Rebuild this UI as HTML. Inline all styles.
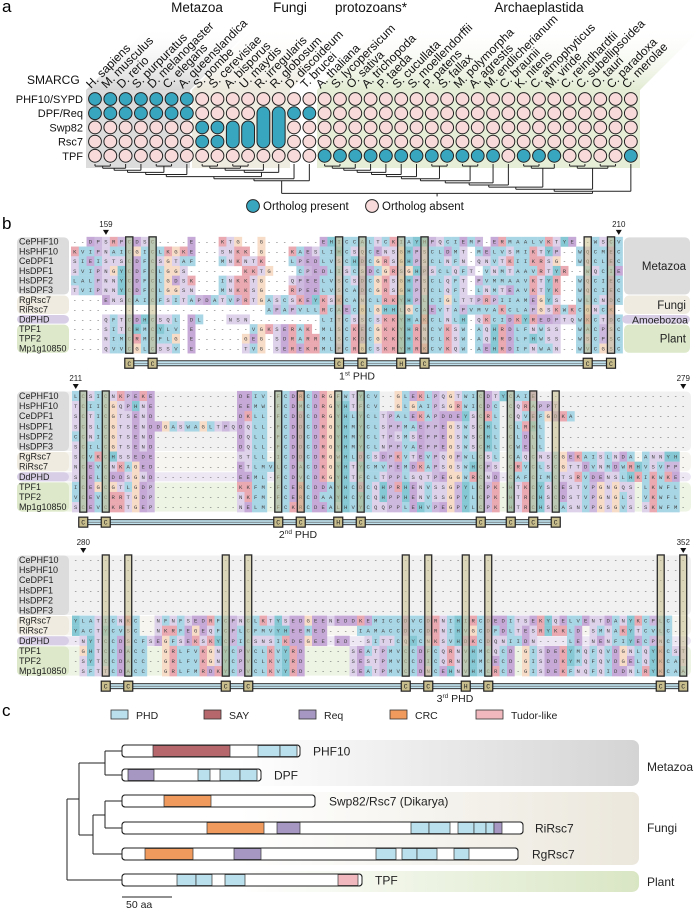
<!DOCTYPE html>
<html><head><meta charset="utf-8">
<style>
html,body{margin:0;padding:0;background:#fff;}
svg{display:block;font-family:"Liberation Sans",sans-serif;}
</style></head>
<body>
<svg id="fig" width="699" height="909" viewBox="0 0 699 909" xmlns="http://www.w3.org/2000/svg">
<defs>
<linearGradient id="gMet" x1="0" y1="1" x2="0" y2="0"><stop offset="0" stop-color="#d6d6d6"/><stop offset="1" stop-color="#ffffff" stop-opacity="0"/></linearGradient>
<linearGradient id="gFun" x1="0" y1="1" x2="0" y2="0"><stop offset="0" stop-color="#ece8dc"/><stop offset="1" stop-color="#ffffff" stop-opacity="0"/></linearGradient>
<linearGradient id="gPla" x1="0" y1="1" x2="0" y2="0"><stop offset="0" stop-color="#e2ebd2"/><stop offset="1" stop-color="#ffffff" stop-opacity="0"/></linearGradient>
<linearGradient id="hMet" x1="0" y1="0" x2="1" y2="0"><stop offset="0" stop-color="#fff"/><stop offset="1" stop-color="#d4d4d4"/></linearGradient>
<linearGradient id="hFun" x1="0" y1="0" x2="1" y2="0"><stop offset="0" stop-color="#fff"/><stop offset="1" stop-color="#ebe7dc"/></linearGradient>
<linearGradient id="hPla" x1="0" y1="0" x2="1" y2="0"><stop offset="0" stop-color="#fff"/><stop offset="1" stop-color="#d9e6c4"/></linearGradient>
</defs>
<g id="pa"></g>
<g id="pb"></g>
<g id="pc"></g>
</svg>
<script>
// ---------- Panel a data ----------
const species = ["H. sapiens","M. musculus","D. rerio","S. purpuratus","D. melanogaster","C. elegans","A. queenslandica","S. pombe","S. cerevisiae","A. bisporus","U. maydis","R. irregularis","R. globosum","D. discoideum","T. brucei","A. thaliana","S. lycopersicum","O. sativa","A. trichopoda","P. taeda","S. cucullata","S. moellendorffii","P. patens","S. fallax","M. polymorpha","A. agrestis","M. endlicherianum","C. braunii","K. nitens","C. atmophyticus","M. viride","C. reindhardtii","C. subellipsoidea","O. tauri","C. paradoxa","C. merolae"];
const proteins = ["PHF10/SYPD","DPF/Req","Swp82","Rsc7","TPF"];
const presence = [
 "111111100000000000000000000000000000",
 "111111100000011000000000000000000000",
 "000000011000000000000000000000000000",
 "000000011000000000000000000000000000",
 "000000000000000111111111111011100001"
];
const pills = [[9,2,3],[10,2,3],[11,1,3],[12,1,3]];
const groupsA = [["Metazoa",197],["Fungi",290],["protozoans*",371],["Archaeplastida",539]];

// ---------- Panel b data ----------
const rowNames = ["CePHF10","HsPHF10","CeDPF1","HsDPF1","HsDPF2","HsDPF3","RgRsc7","RiRsc7","DdPHD","TPF1","TPF2","Mp1g10850"];
const rowGroup = [0,0,0,0,0,0,1,1,2,3,3,3];
const block1 = [
"--DPSRPCDSC----E---KTG--G-------EHICCALTCKIAYHPQCIEMP-ERMAALVKTYE--WSCVDCR",
"KVIPNAICGICLKGKE---SNKK-G---KAESLIHCSQCENSGHPSCLDMT-MELVSMIKTYP--WQCMECK",
"SIEISTSCDFCSGTAF---MNKNTK---LPEDLVSCHDCGRSGHPSCLNFN-QNVTKIIKRSG--WQCLECK",
"SVIPNGYCDFCLGGS-------KKTG---CPEDLISCSDCGRSGHPSCLQFT-VNMTAAVRTYR--WQCIECK",
"LALPNNYCDFCLGDSK---INKKTG---QPEELVSCSDCGRSGHPSCLQFT-PVMMAAVKTYR--WQCIECK",
"TVIPNNYCDFCLGGSN---MNKKSG---RPEELVSCADCGRSGHPTCLQFT-LNMTEAVKTYK--WQCIECK",
"----ENSCAICFSITAPDATVPRTGASCSKEYKSKCANCLRKYHPLCIGLTTPRPIIAMEGYS--WLCNDCK",
"-------------------------APAPVLLRCAECGLGHHLGCAEVTAPVMVAKCLAPGSKWKCGNCK",
"----QFTCDHCSQL-DL---NSN---------LITCSSCSKKYHAKCLNLH-QKCIDKYREDPTQWKCTDCK",
"----SITCHMCYLV-E-------VGKSERAK-MLSCKECGKKYHRNCVKSW-AQHRDLFNWSS--WACPSCR",
"----NIMCRMCFLG-E------GEG-SDRARRMLSCKDCGKKYHKNCLKSW-AQHRDLFHWSS--WSCPSCR",
"----QVVCGLCSSV-E------TVG-SEREKRMLPCRGCSKRYHRKCVKQW-AEHRDIFNWAN--WVCGSCR"];
const block2 = [
"LCSICNKPEKE-----------DEIV-FCDRCDRGFWTYCV--GLEKLPQGTWICDTYCAIE--------------------",
"TCIICGQPHNE-----------EEMW-FCDMCDRGYHTFCV--GLGAIPSGRWICDC-CQRAPPT-----------------",
"SCTICGTSEND-----------DKLL-FCDDCDRGYHLYCLTPALEKAPDDEYSCRL-CQVEFGDKA---------------",
"SCSLCGTSENDDGASWAGLTPQDQLL-FCDDCDRGYHMYCLSPPMAEPPEGSWSCHL-CLRHL-------------------",
"CCNICGTSEND-----------DQLL-FCDDCDRGYHMYCLTPSMSEPPEGSWSCHL-CLDLL-------------------",
"SCILCGTSEND-----------DQLL-FCDDCDRGYHMYCLNPPVAEPPEGSWSCHL-CWELL-------------------",
"SCVKCHSSEDE-----------STLL-ICDDCDRGWHLDCSDPKVTEVPQGPWLCSL-CAQCNSCGEKAISLNDA-ANNYH",
"NCEVCNKAGED-----------ETLMVLCDACDKGYHTYCMVPEMDKAPSGSWHCPS-CRVCLSCGTTDVNMDWRHVSVPP",
"SCELCDDSGND-----------EEML-FCDVCDKGYHTFCLTPPLSQTPEGGWRCND-CAFCIMCTSRVDENSLHKIKWKE",
"ICEGCGTLGDP-----------KKFM-FCERCDDAYHCDCQHPRHENVSSGPYLCPK-HTKCYSCESTVPGNGQS-LKWFL",
"VCEVCRRTGDP-----------NKFM-FCERCDAAYHCYCQHPPHENVSSGPYLCPK-HTRCHSCDSTVPGNGLS-VKWFL",
"SCEVCKRTGEP-----------NELM-FCKRCDEALHVYCQQPPLEHVPEGPYLCPK-HTRCHSCASNVPGSGVS-SKWFM"];
const block3 = [
"----------------------------------------------------------------------------------",
"----------------------------------------------------------------------------------",
"----------------------------------------------------------------------------------",
"----------------------------------------------------------------------------------",
"----------------------------------------------------------------------------------",
"----------------------------------------------------------------------------------",
"YLATICNKC--NFNFSEDRFCPNCLKTYSEDGEENEDDKEMICCDVCDRNIHIRCDEDITSEKYQELVENTDANYKCPLC",
"YACTYCVSC--NKRFEGEQFCPLCFMVYHEEMED----IAMACCDVCDRNIHVGCDFDLTESRYKKLD-SMNAKYTCVLC",
"-NYTCCDSCFSEGFSEKSKYCPICSNSIKDEGEE-ED--SITTCQYCNKSVHDKCDQNIIDN----LE-NENFIYECPNC",
"-GHTCCDACC--GRLFVKGNYCPVCLKVYRD------SEATPMVCCDFCQRNVHMCQCD-GISDEKYMQFQVDGNLQYKCSTC",
"-SYTCCDACC--GRLFVKGNYCPVCLKVYRD------SESTPMVCCDICQRNVHMCECD-GISDDKYMQFQVDGELQYKCATC",
"-SFTTCDACC--GRLFMRDKYCPVCLKVYRD------SEATPMVCCDNCEHNVHMCRCD-GISDEKFNQFQIDDNLRYKCAAC"];
const boxes1 = [7,10,34,37,42,45,66,69];
const cons1 = ["C","C","C","C","H","C","C","C"];
const boxes2 = [1,4,27,30,35,38,54,58,61,64];
const cons2 = ["C","C","C","C","H","C","C","C","C","C"];
const boxes3 = [4,7,20,23,44,47,52,55,78,81];
const cons3 = ["C","C","C","C","C","C","H","C","C","C"];

// ---------- Panel c data ----------
const domainLegend = [["PHD","#b9e0ec"],["SAY","#b5676b"],["Req","#a596c2"],["CRC","#f09a5e"],["Tudor-like","#f1b9bd"]];
const legendX = [111,204,299,390,476];
const proteinsC = ["PHF10","DPF","Swp82/Rsc7 (Dikarya)","RiRsc7","RgRsc7","TPF"];
const protLen = [178,139,193,401,396,240];
const domains = [
 [["SAY",31,108],["PHD",136,158],["PHD",158,175]],
 [["Req",6,32],["PHD",76,88],["PHD",98,118],["PHD",118,135]],
 [["CRC",42,89]],
 [["CRC",85,142],["Req",155,178],["PHD",289,307],["PHD",307,328],["PHD",336,352],["PHD",352,364],["PHD",364,372],["Req",372,380]],
 [["CRC",23,71],["Req",112,139],["PHD",254,274],["PHD",280,295],["PHD",295,315],["PHD",332,347]],
 [["PHD",55,74],["PHD",74,90],["PHD",103,123],["Tudor-like",216,236]]];

const NS="http://www.w3.org/2000/svg";
function mk(parent,tag,attrs,text){const e=document.createElementNS(NS,tag);for(const k in attrs)e.setAttribute(k,attrs[k]);if(text!==undefined)e.textContent=text;parent.appendChild(e);return e;}

// ================= PANEL A =================
const pa=document.getElementById('pa');
const colX=i=>95+i*15.31;
const rowY=r=>99+r*14.2;
let t=mk(pa,'text',{x:2,y:12,'font-size':17},'a');


const bgs=[[86,190,'gMet'],[192,290,'gFun'],[317,640,'gPla']];
bgs.forEach(b=>{
  const p=mk(pa,'polygon',{points:`${b[0]},90 ${b[0]+64},26 ${b[1]+64},26 ${b[1]},90`,fill:`url(#${b[2]})`});
  
  
  const fill=b[2]==='gMet'?'#dcdcdc':b[2]==='gFun'?'#eeebe0':'#e6eed8';
  const r=mk(pa,'rect',{x:b[0],y:90,width:b[1]-b[0],height:78,fill:fill});
  
  
});
groupsA.forEach(g=>{
  const e=mk(pa,'text',{x:g[1],y:12,'font-size':13.5,'text-anchor':'middle',fill:'#111'},g[0]);
  
  
});
t=mk(pa,'text',{x:27,y:84,'font-size':12,fill:'#111'},'SMARCG');


species.forEach((s,i)=>{
  const e=mk(pa,'text',{x:0,y:0,'font-size':12,fill:'#111',transform:`translate(${colX(i)-4},${89}) rotate(-45)`},s);
  
  
});
proteins.forEach((p,r)=>{
  const e=mk(pa,'text',{x:83,y:rowY(r)+4,'font-size':11,'text-anchor':'end',fill:'#111'},p);
  
  
});
function covered(c,r){return pills.some(p=>p[0]===c&&r>=p[1]&&r<=p[2]);}
presence.forEach((row,r)=>{
  for(let c=0;c<species.length;c++){
    if(covered(c,r))continue;
    const on=row[c]==='1';
    const e=mk(pa,'circle',{cx:colX(c),cy:rowY(r),r:6.4,fill:on?'#39a6c0':'#f7dad9',stroke:'#222','stroke-width':1});
    
    
  }
});
pills.forEach(p=>{
  const y1=rowY(p[1])-6.4,y2=rowY(p[2])+6.4;
  const e=mk(pa,'rect',{x:colX(p[0])-6.4,y:y1,width:12.8,height:y2-y1,rx:6.4,fill:'#39a6c0',stroke:'#222','stroke-width':1});
  
  
});
const M=[[[[[0,1],2],3],[4,5]],6];
const F=[[[[7,8],[9,10]],11],12];
const P=[[[[[[[[[[[[[15,16],17],18],19],20],21],[22,23]],[24,25]],26],27],[[28,29],30]],[[31,32],[33,34]]],35];
const TREE=[[[[M,F],13],14],P];
const tg=mk(pa,'g',{stroke:'#222','stroke-width':1,fill:'none'});


function drawT(n){
  if(typeof n==='number') return {x:colX(n),y:164};
  const ch=n.map(drawT);
  const y=Math.max(...ch.map(c=>c.y))+2.1;
  const xs=ch.map(c=>c.x);
  ch.forEach(c=>mk(tg,'line',{x1:c.x,y1:c.y,x2:c.x,y2:y}));
  mk(tg,'line',{x1:Math.min(...xs),y1:y,x2:Math.max(...xs),y2:y});
  return {x:(Math.min(...xs)+Math.max(...xs))/2,y:y};
}
const rt=drawT(TREE);
mk(tg,'line',{x1:rt.x,y1:rt.y,x2:rt.x,y2:rt.y+3});
[[253,'#39a6c0','Ortholog present'],[372,'#f7dad9','Ortholog absent']].forEach(l=>{
  const c=mk(pa,'circle',{cx:l[0],cy:206,r:6.4,fill:l[1],stroke:'#222','stroke-width':1});
  
  
  const e=mk(pa,'text',{x:l[0]+10,y:210,'font-size':11.5,fill:'#111'},l[2]);
  
  
});

// ================= PANEL B =================
const pb=document.getElementById('pb');
t=mk(pb,'text',{x:2,y:229,'font-size':17},'b');


const grpCol=['#dcdcdc','#efebe0','#d8cfe6','#dce8c9'];
const grpFaint=['#f1f1f1','#f7f5ef','#ece7f3','#eef4e4'];
function aaColor(a){
  if('AILMFWV'.includes(a))return '#a9d6e5';
  if(a==='C')return '#a9d6e5';
  if('KR'.includes(a))return '#eaa9b0';
  if('DE'.includes(a))return '#c6a9d6';
  if('NQST'.includes(a))return '#ddd2ea';
  if(a==='G')return '#f7dcc8';
  if(a==='P')return '#cdb8de';
  if('HY'.includes(a))return '#86c9d5';
  return null;
}
function drawBlock(seqs,x0,pitch,ncols,yc0,rh,boxes,cons,startNum,endNum,phdLabel,phdX,wideBand){
  const g=mk(pb,'g',{});
  
  
  const topY=yc0-rh/2;
  let r0=0;
  while(r0<12){let r1=r0;while(r1+1<12&&rowGroup[r1+1]===rowGroup[r0])r1++;
    const y=topY+r0*rh, h=(r1-r0+1)*rh;
    if(wideBand){const f=mk(g,'rect',{x:17,y:y+0.5,width:674,height:h-1,rx:5,fill:grpFaint[rowGroup[r0]]});
      
      }
    const b=mk(g,'rect',{x:17,y:y+0.5,width:52,height:h-1,rx:5,fill:grpCol[rowGroup[r0]]});
    
    
    r0=r1+1;}
  seqs.forEach((s,r)=>{
    const yc=yc0+r*rh;
    const e=mk(g,'text',{x:19,y:yc+3,'font-size':9,fill:'#222'},rowNames[r]);
    
    
    const str=s.padEnd(ncols,'-').slice(0,ncols);
    for(let c=0;c<ncols;c++){
      const a=str[c];const col=aaColor(a);
      if(col){const cell=mk(g,'rect',{x:x0+c*pitch,y:yc-rh/2,width:pitch+0.2,height:rh+0.2,fill:col});
        
        }
    }
    const tx=mk(g,'text',{'font-family':'Liberation Mono, monospace','font-size':5.6,fill:'#444'});
    for(let c=0;c<ncols;c++){
      mk(tx,'tspan',{x:x0+c*pitch+pitch/2-1.7,y:yc+2},str[c]);
    }
    
    
  });
  boxes.forEach((c,i)=>{
    const bx=mk(g,'rect',{x:x0+c*pitch+0.3,y:topY,width:pitch-0.6,height:12*rh,fill:'#c8bd8c','fill-opacity':0.55,stroke:'#2a2a2a','stroke-width':1.3});
    
    
  });
  const cy=topY+12*rh+10;
  const xa=x0+boxes[0]*pitch+pitch/2, xb=x0+boxes[boxes.length-1]*pitch+pitch/2;
  mk(g,'rect',{x:xa,y:cy-2.5,width:xb-xa,height:5,fill:'#bfe2ee',stroke:'#333','stroke-width':1});
  mk(g,'line',{x1:xa,y1:cy,x2:xb,y2:cy,stroke:'#555','stroke-width':0.6});
  boxes.forEach((c,i)=>{
    const bx=x0+c*pitch+pitch/2;
    const e=mk(g,'rect',{x:bx-4.5,y:cy-5,width:9,height:10,fill:'#c8bd8c',stroke:'#222','stroke-width':1.2});
    
    
    mk(g,'text',{x:bx,y:cy+2.5,'font-size':6.5,'font-family':'Liberation Mono, monospace','text-anchor':'middle',fill:'#222'},cons[i]);
  });
  const lab=mk(g,'text',{x:phdX,y:cy+16,'font-size':10.5,'text-anchor':'middle',fill:'#222'});
  mk(lab,'tspan',{},phdLabel[0]);
  mk(lab,'tspan',{'font-size':6.5,dy:-4},phdLabel[1]);
  mk(lab,'tspan',{dy:4},' PHD');
  
  
  [[startNum[0],startNum[1]],[endNum[0],endNum[1]]].forEach(n=>{
    const x=x0+n[1]*pitch+pitch/2;
    const e=mk(g,'text',{x:x,y:topY-10,'font-size':8,'text-anchor':'middle',fill:'#222'},n[0]);
    
    
    mk(g,'polygon',{points:`${x-3},${topY-7} ${x+3},${topY-7} ${x},${topY-2}`,fill:'#111'});
  });
}
drawBlock(block1,71,7.77,71,241.7,9.7,boxes1,cons1,["159",4],["210",70],["1","st"],357,false);
drawBlock(block2,72,7.5,82,396,10.1,boxes2,cons2,["211",0],["279",81],["2","nd"],298,true);
drawBlock(block3,72,7.5,82,560,10.1,boxes3,cons3,["280",1],["352",81],["3","rd"],455,true);
const rg=[["Metazoa",0,5,'hMet'],["Fungi",6,7,'hFun'],["Amoebozoa",8,8,null],["Plant",9,11,'hPla']];
rg.forEach((g,gi)=>{
  const y=241.7-4.85+g[1]*9.7, h=(g[2]-g[1]+1)*9.7;
  const r=mk(pb,'rect',{x:g[3]?624:622,y:y+0.5,width:g[3]?66:68,height:h-1,rx:5,fill:grpCol[gi]});
  
  
  const e=mk(pb,'text',{x:g[3]?686:688,y:y+h/2+4,'font-size':g[0]==='Amoebozoa'?10.5:11.5,'text-anchor':'end',fill:'#222'},g[0]);
  
  
});

// ================= PANEL C =================
const pc=document.getElementById('pc');
t=mk(pc,'text',{x:2,y:716,'font-size':17},'c');


const dColor={}; domainLegend.forEach(d=>dColor[d[0]]=d[1]);
domainLegend.forEach((d,i)=>{
  const w=d[0]==='Tudor-like'?27:17;
  const r=mk(pc,'rect',{x:legendX[i],y:710,width:w,height:9,fill:d[1],stroke:'#333','stroke-width':0.8});
  
  
  const e=mk(pc,'text',{x:legendX[i]+w+8,y:719,'font-size':10.5,fill:'#222'},d[0]);
  
  
});
[[740,786,'hMet','Metazoa',771],[792,865,'hFun','Fungi',832],[871,892,'hPla','Plant',886]].forEach(b=>{
  const r=mk(pc,'rect',{x:240,y:b[0],width:399,height:b[1]-b[0],rx:7,fill:`url(#${b[2]})`});
  
  
  const e=mk(pc,'text',{x:647,y:b[4],'font-size':12,fill:'#222'},b[3]);
  
  
});
const protY=[751,775,801,828,854,880];
const x0c=122;
const labX=[313,274,329,535,532,375];
proteinsC.forEach((p,i)=>{
  const g=mk(pc,'g',{});
  
  
  const y=protY[i]-6;
  const len=protLen[i];
  mk(g,'rect',{x:x0c,y:y,width:len,height:12,rx:3,fill:'#fff',stroke:'#222','stroke-width':1});
  domains[i].forEach(d=>{
    const r=mk(g,'rect',{x:x0c+d[1],y:y+0.5,width:d[2]-d[1],height:11,fill:dColor[d[0]],stroke:'#333','stroke-width':0.7});
    
    
  });
  mk(g,'rect',{x:x0c,y:y,width:len,height:12,rx:3,fill:'none',stroke:'#222','stroke-width':1});
  const e=mk(g,'text',{x:labX[i],y:protY[i]+4.5,'font-size':12,fill:'#222'},p);
  
  
});
const tc=mk(pc,'g',{stroke:'#222','stroke-width':1,fill:'none'});


function L(a,b,c,d){mk(tc,'line',{x1:a,y1:b,x2:c,y2:d});}
L(105,751,122,751);L(105,775,122,775);L(105,751,105,775);
L(105,801,122,801);L(105,828,122,828);L(105,801,105,828);
L(93,815,105,815);L(93,854,122,854);L(93,815,93,854);
L(79,763,105,763);L(79,835,93,835);L(79,763,79,835);
L(67,799,79,799);L(67,880,122,880);L(67,799,67,880);
L(122,897,172,897);
t=mk(pc,'text',{x:126,y:908,'font-size':10.5,fill:'#222'},'50 aa');


</script>
</body></html>
